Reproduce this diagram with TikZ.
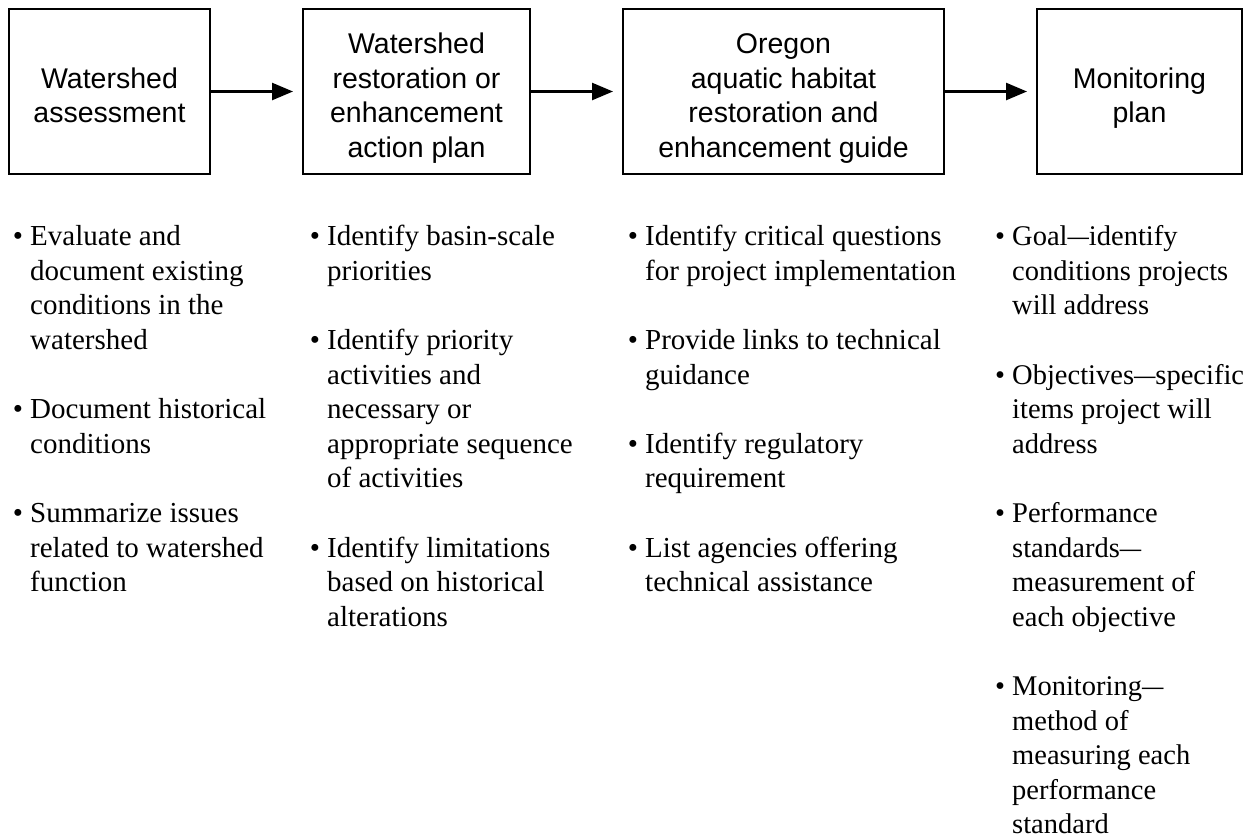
\documentclass[tikz,border=0pt]{standalone}
\usepackage{fontspec}
\usepackage{graphicx}
\setmainfont{Liberation Serif}
\newfontfamily\boxfont{Liberation Sans}
\usetikzlibrary{arrows.meta}
% hanging bullet in front of an item
\newcommand\bul{\llap{\textbullet\ }}
% slightly narrowed em dash used inside the notes
\newcommand\ndash{\scalebox{0.75}[1]{—}}
% fixes the height of the first line of each note column
\newcommand\firstline{\rule{0pt}{25pt}}
% struts that place the box labels vertically
\newcommand\boxtop{\rule{0pt}{34pt}}
\newcommand\boxbot{\rule[-6pt]{0pt}{6pt}}
\begin{document}
\begin{tikzpicture}[x=1pt,y=-1pt,
  stage/.style={draw, line width=2pt, minimum height=165pt, inner sep=0pt,
    align=center, font=\boxfont\fontsize{28.5}{34.5}\selectfont},
  notes/.style={anchor=north west, inner sep=0pt, align=left,
    font=\fontsize{29}{34.6}\selectfont},
  flow/.style={line width=2.5pt, -{Triangle[length=21pt,width=17pt]}, shorten >=9pt}
]
\useasboundingbox[fill=white] (0,0) rectangle (1245,839);

% the four stages
\node[stage, minimum width=201pt] (b1) at (109.5,91.5)
  {\boxtop Watershed\\assessment\boxbot};
\node[stage, minimum width=227pt] (b2) at (416.5,91.5)
  {\boxtop Watershed\\restoration or\\enhancement\\action plan\boxbot};
\node[stage, minimum width=321pt] (b3) at (783.5,91.5)
  {\boxtop Oregon\\aquatic habitat\\restoration and\\enhancement guide\boxbot};
\node[stage, minimum width=205pt] (b4) at (1139.5,91.5)
  {\boxtop Monitoring\\plan\boxbot};

\draw[flow] (b1.east) -- (b2.west);
\draw[flow] (b2.east) -- (b3.west);
\draw[flow] (b3.east) -- (b4.west);

% notes under each stage
\node[notes] (n1) at (30,220.5) {\firstline\bul Evaluate and\\
  document existing\\conditions in the\\watershed\\[34.6pt]
  \bul Document historical\\conditions\\[34.6pt]
  \bul Summarize issues\\related to watershed\\function};

\node[notes] (n2) at (327,220.5) {\firstline\bul Identify basin-scale\\
  priorities\\[34.6pt]
  \bul Identify priority\\activities and\\necessary or\\appropriate sequence\\of activities\\[34.6pt]
  \bul Identify limitations\\based on historical\\alterations};

\node[notes] (n3) at (645,220.5) {\firstline\bul Identify critical questions\\
  for project implementation\\[34.6pt]
  \bul Provide links to technical\\guidance\\[34.6pt]
  \bul Identify regulatory\\requirement\\[34.6pt]
  \bul List agencies offering\\technical assistance};

\node[notes, font=\fontsize{28.5}{34.6}\selectfont] (n4) at (1012,220.5) {\firstline\bul Goal\ndash identify\\
  conditions projects\\will address\\[34.6pt]
  \bul Objectives\ndash specific\\items project will\\address\\[34.6pt]
  \bul Performance\\standards\ndash\\measurement of\\each objective\\[34.6pt]
  \bul Monitoring\ndash\\method of\\measuring each\\performance\\standard};
\end{tikzpicture}
\end{document}
